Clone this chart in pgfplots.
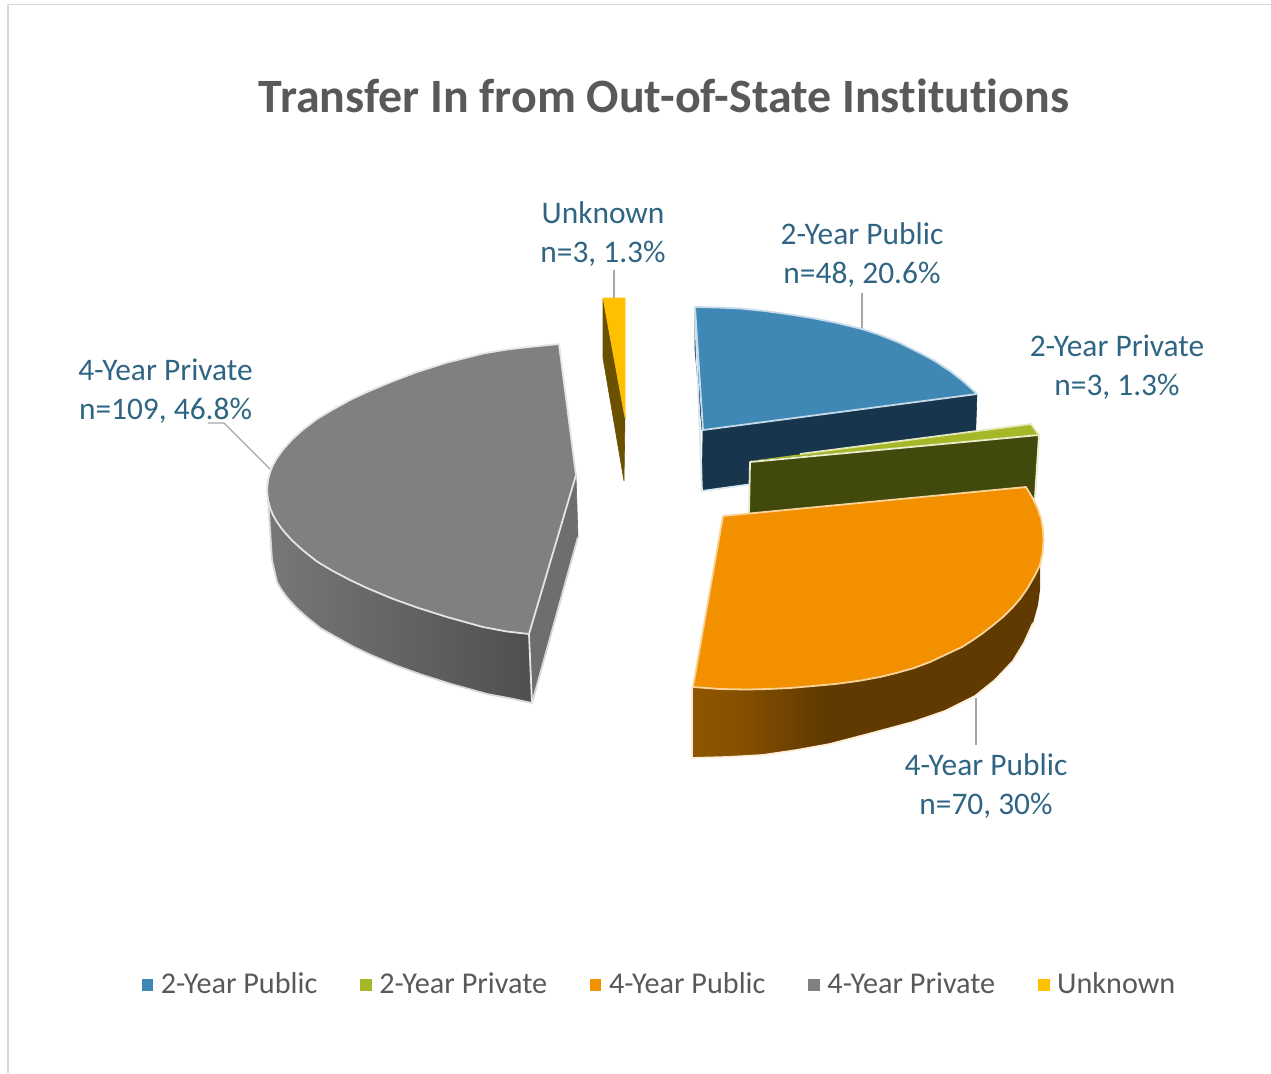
\documentclass[border=0pt]{standalone}
\usepackage{fontspec}
\setmainfont{Carlito}[Ligatures=NoCommon]
\usepackage{pgfplots}
\pgfplotsset{compat=1.18}
\definecolor{cblue}{HTML}{3F87B5}\definecolor{cblues}{HTML}{17364D}
\definecolor{cgreen}{HTML}{A6B727}\definecolor{cgreens}{HTML}{414A0C}
\definecolor{corange}{HTML}{F39000}\definecolor{cgray}{HTML}{808080}
\definecolor{cyellow}{HTML}{FFC000}\definecolor{cyellows}{HTML}{6B5000}
\definecolor{clab}{HTML}{2F6583}\definecolor{ctxt}{HTML}{595959}
\definecolor{clead}{HTML}{A6A6A6}
\definecolor{owa}{HTML}{8F5500}\definecolor{owb}{HTML}{885100}\definecolor{owc}{HTML}{603A00}
\pgfdeclarehorizontalshading{orangewall}{100bp}{color(0bp)=(owa);color(25bp)=(owa);color(31bp)=(owb);color(44bp)=(owc);color(100bp)=(owc)}
\newcommand\poly[2]{\addplot[fill=#1,draw=#1,line width=0.3pt,forget plot] coordinates {#2} -- cycle;}
\newcommand\edge[2]{\addplot[draw=#1,line width=0.9pt,line join=round,forget plot] coordinates {#2};}
\newcommand\lab[3]{\node[text=clab,align=center,font=\fontsize{15.7}{19.5}\selectfont] at (axis cs:#1,#2) {#3};}
\begin{document}
\begin{tikzpicture}
\useasboundingbox (0,0) rectangle (635.5pt,536.5pt);
\begin{axis}[
  width=635.5pt,height=536.5pt,scale only axis,hide axis,clip=false,
  xmin=0,xmax=1271,ymin=0,ymax=1073,y dir=reverse,
  legend columns=5,
  legend image code/.code={\fill[#1] (0pt,-2.6pt) rectangle (5.2pt,2.6pt);},
  legend style={draw=none,fill=none,at={(axis cs:135.5,985)},anchor=west,
    font=\fontsize{15.1}{17}\selectfont\color{ctxt},
    /tikz/every even column/.append style={column sep=17.6pt},
    nodes={inner xsep=3.9pt}},
]
% border
\addplot[draw=black!15,line width=0.8pt,forget plot] coordinates {(8,1073)(8,4.5)(1271,4.5)};
% leaders
\addplot[draw=clead,line width=0.7pt,forget plot] coordinates {(614,270)(614,298)};
\addplot[draw=clead,line width=0.7pt,forget plot] coordinates {(862,293)(862,329)};
\addplot[draw=clead,line width=0.7pt,forget plot] coordinates {(976,698)(976,745)};
\addplot[draw=clead,line width=0.7pt,forget plot] coordinates {(208,423)(224,423)(272,471)};
% 4-Year Private: right wall
\poly{black!57}{(529,634)(532,703)(578,537)(576,475)}
% 4-Year Private: outer wall
\addplot[left color=black!53,right color=black!69,draw=none,forget plot] coordinates {
 (267,490)(268,500)(270,507.6)(273,515)(277,522)(283,530.4)(292,540.4)(303,550.4)(317,561.5)(332,570)(350,580)(367,588)(392,598.5)(417,607.5)(447,617)(483,627)(507,631.5)(529,634)
 (532,703)(511,698.5)(487,694)(451,684)(421,674.5)(396,665.5)(371,655)(354,647)(336,637)(321,628.5)(307,617.4)(296,607.4)(287,597.4)(281,589)(277,582)(272,560)} -- cycle;
\edge{white!85!black}{(268,497)(272,560)(277,582)(281,589)(287,597.4)(296,607.4)(307,617.4)(321,628.5)(336,637)(354,647)(371,655)(396,665.5)(421,674.5)(451,684)(487,694)(511,698.5)(532,703)(578,537)}
\edge{white!90!black}{(529,634)(532,703)}
% 4-Year Private: top
\addplot[fill=cgray,draw=white!90!black,line width=0.9pt,line join=round,forget plot] coordinates {
 (559,344)(529,347)(507,349.5)(483,353.5)(447,362.5)(417,372)(392,381.5)(367,392)(350,400)(332,410)(317,419)(303,429.6)(292,439.6)(283,449.6)(277,458)(273,465)(270,472.4)(268,480)
 (267,490)(268,500)(270,507.6)(273,515)(277,522)(283,530.4)(292,540.4)(303,550.4)(317,561.5)(332,570.5)(350,580)(367,588)(392,598.5)(417,607.5)(447,617)(483,627)(507,631.5)
 (529,634)(576,475)} -- cycle;
% Unknown
\poly{cyellows}{(603,299)(603,358)(624,481)(625,415)}
\poly{cyellow}{(603,298)(625,298)(625,418)}
% 2-Year Public
\poly{cblues}{(695,307)(695,350)(702,430)}
\poly{cblues}{(703,430)(977,394)(975,452)(702,491)}
\edge{white!80!cblue}{(695,310)(702,491)(760,483)}
\addplot[fill=cblue,draw=white!70!cblue,line width=0.9pt,line join=round,forget plot] coordinates {
 (695,307)(718,307.5)(740,308.5)(765,311)(790,314.5)(812,318)(835,322.5)(862,329)(880,335)(900,343)(920,353)(935,361)(950,371)(964,382)(977,394)(703,430)} -- cycle;
% 2-Year Private
\addplot[fill=cgreen,draw=none,forget plot] coordinates {(749,461)(1031,424)(1039,435)} -- cycle;
\poly{cgreens}{(750,462)(1039,435)(1035,497)(749,520)}
\edge{white!75!cgreen}{(749,513)(750,462)(1039,435)(1035,497)}
\edge{white!70!cgreen}{(800,454)(1031,424)(1039,435)}
% 4-Year Public: wall
\addplot[shading=orangewall,draw=none,forget plot] coordinates {
 (692,687)(720,689)(747,689.5)(768,689)(790,688)(813,686)(835,684)(858,681)(880,677)(898,672.5)(914,668)(930,662)(947,654)(962,647)(973,640)(983,633)(992,626)(1003,617)(1013,607)(1020,599)(1027,589)(1034,577)(1040,565)
 (1040,590)(1038,605)(1033,623)(1024,643)(1013,661)(995,680)(975,696)(945,711)(913,722)(872,733)(830,744)(797,750)(763,755)(728,757)(692,758)} -- cycle;
\edge{white!85!corange}{(692,687)(692,758)(728,757)(763,755)(797,750)(830,744)(872,733)(913,722)(945,711)(975,696)(995,680)(1013,661)(1024,643)(1033,623)}
% 4-Year Public: top
\addplot[fill=corange,draw=white!60!corange,line width=0.9pt,line join=round,forget plot] coordinates {
 (723,516)(1026,487)(1032,497)(1037,507)(1041,518)(1043,530)(1043.5,541)(1042.5,553)(1040,565)(1034,577)(1027,589)(1020,599)(1013,607)(1003,617)(992,626)(983,633)(973,640)(962,647)(947,654)(930,662)(914,668)(898,672.5)(880,677)(858,681)(835,684)(813,686)(790,688)(768,689)(747,689.5)(720,689)(693,687)} -- cycle;
% labels
\node[text=ctxt,font=\fontsize{23.95}{26}\selectfont\bfseries] at (axis cs:664,96) {Transfer In from Out-of-State Institutions};
\lab{603}{234}{Unknown\\n=3, 1.3\%}
\lab{862}{255}{2-Year Public\\n=48, 20.6\%}
\lab{1117}{367}{2-Year Private\\n=3, 1.3\%}
\lab{986}{786}{4-Year Public\\n=70, 30\%}
\lab{165.5}{391}{4-Year Private\\n=109, 46.8\%}
% legend
\addlegendimage{cblue}\addlegendentry{2-Year Public}
\addlegendimage{cgreen}\addlegendentry{2-Year Private}
\addlegendimage{corange}\addlegendentry{4-Year Public}
\addlegendimage{cgray}\addlegendentry{4-Year Private}
\addlegendimage{cyellow}\addlegendentry{Unknown}
\end{axis}
\end{tikzpicture}
\end{document}
